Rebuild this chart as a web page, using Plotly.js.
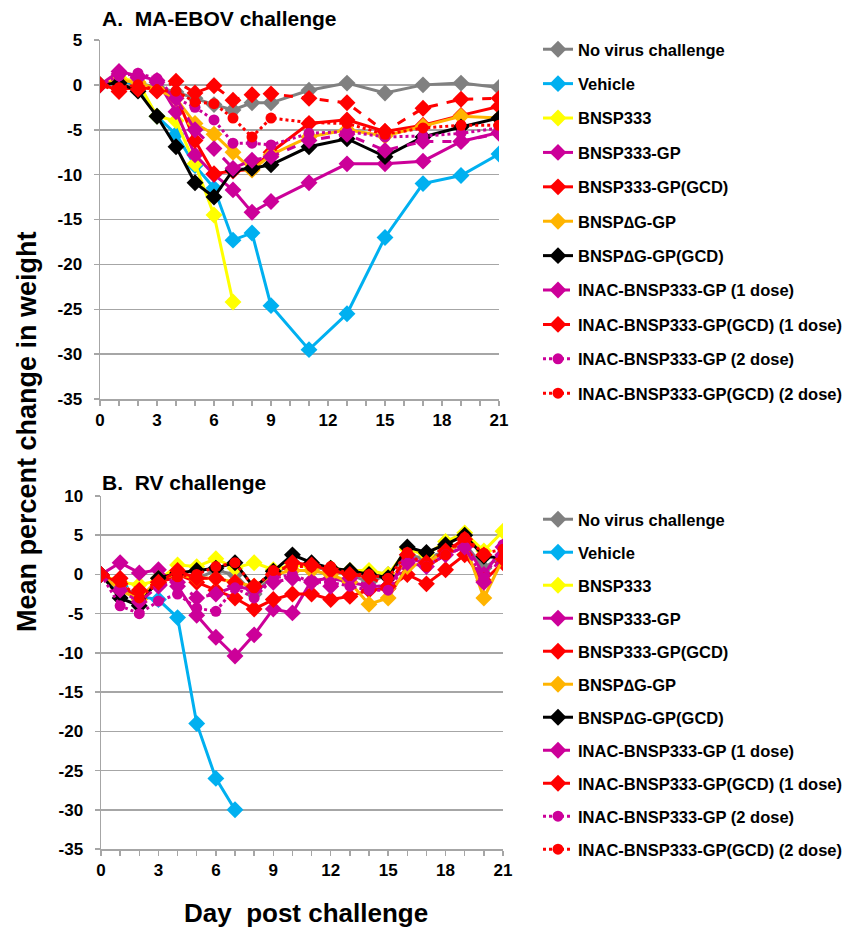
<!DOCTYPE html>
<html>
<head>
<meta charset="utf-8">
<script src="https://cdn.plot.ly/plotly-3.0.1.min.js"></script>
<style>html,body{margin:0;padding:0;background:#fff;}#chart{width:846px;height:933px;}</style>
</head>
<body>
<div id="chart"></div>
<script>
// ---------- DATA ----------
const seriesNames = [
  "No virus challenge",
  "Vehicle",
  "BNSP333",
  "BNSP333-GP",
  "BNSP333-GP(GCD)",
  "BNSP\u2206G-GP",
  "BNSP\u2206G-GP(GCD)",
  "INAC-BNSP333-GP (1 dose)",
  "INAC-BNSP333-GP(GCD) (1 dose)",
  "INAC-BNSP333-GP (2 dose)",
  "INAC-BNSP333-GP(GCD) (2 dose)"
];

// Panel A: MA-EBOV challenge
const daysA = [0, 1, 2, 3, 4, 5, 6, 7, 8, 9, 11, 13, 15, 17, 19, 21];
const aNoVirus   = [0, 0.3, 0.2, -0.3, -0.8, -1.5, -2.2, -2.8, -2.0, -2.0, -0.6, 0.2, -0.9, 0.0, 0.2, -0.3];
const aVehicle   = [0, 0.5, 0.0, -3.5, -5.5, -9.0, -11.5, -17.3, -16.5, -24.6, -29.5, -25.5, -17.0, -11.0, -10.1, -7.7];
const aBNSP333   = [0, 0.8, 0.3, -3.5, -4.0, -8.8, -14.5, -24.2];
const aGP        = [0, 1.5, 1.0, 0.5, -3.0, -7.8, -10.0, -11.7, -14.2, -13.0, -10.9, -8.8, -8.8, -8.5, -6.3, -5.3];
const aGPGCD     = [0, -0.5, -0.3, -0.5, -1.2, -6.2, -9.9, -9.6, -9.4, -7.5, -4.3, -3.9, -5.2, -4.5, -3.4, -2.4];
const aDG        = [0, 0.5, 0.3, -0.5, -1.5, -4.3, -5.5, -7.5, -9.5, -7.8, -5.8, -5.0, -5.7, -4.6, -3.5, -3.7];
const aDGGCD     = [0, 0.2, -0.7, -3.5, -6.9, -10.9, -12.5, -9.5, -9.3, -8.9, -6.9, -6.0, -8.0, -5.8, -4.7, -3.7];
const aInac1     = [0, 1.2, 0.8, 0.3, -1.5, -5.0, -7.1, -9.3, -8.4, -8.0, -6.2, -5.5, -7.3, -6.3, -6.3, -5.4];
const aInacGCD1  = [0, -0.75, -0.5, -0.7, 0.4, -0.9, -0.1, -1.7, -1.1, -1.0, -1.5, -2.0, -5.2, -2.6, -1.6, -1.5];
const aInac2     = [0, 1.0, 1.3, 0.7, -1.5, -2.5, -3.9, -6.5, -6.5, -6.7, -5.4, -5.2, -5.8, -5.7, -5.4, -4.8];
const aInacGCD2  = [0, -0.3, 0.0, -0.6, -0.7, -1.9, -2.1, -3.7, -5.8, -3.7, -4.2, -4.3, -5.5, -4.8, -4.5, -4.5];

// Panel B: RV challenge
const daysB = [0, 1, 2, 3, 4, 5, 6, 7, 8, 9, 10, 11, 12, 13, 14, 15, 16, 17, 18, 19, 20, 21];
const bNoVirus   = [0, -1.5, -3.0, -1.0, 0.0, -0.5, 0.5, 0.0, -2.5, 0.0, 1.5, 1.0, 0.5, 0.0, -1.0, 0.0, 2.5, 2.0, 3.0, 4.0, 0.8, 2.5];
const bVehicle   = [0, -1.5, -2.8, -3.2, -5.5, -19.0, -26.0, -30.0];
const bBNSP333   = [0, -1.0, -1.3, -0.8, 1.2, 1.0, 2.0, 0.8, 1.5, 0.6, 1.2, 1.0, 0.8, 0.5, 0.5, 0.0, 3.2, 2.5, 4.2, 5.3, 3.0, 5.5];
const bGP        = [0, 1.5, 0.2, 0.6, -1.5, -5.2, -8.0, -10.4, -7.7, -4.4, -4.9, -0.8, -0.5, -1.0, -1.5, -1.5, 2.0, 1.5, 3.0, 4.0, 0.0, 3.5];
const bGPGCD     = [0, -1.2, -3.2, -1.0, 0.0, -1.0, -2.0, -3.0, -4.4, -3.2, -2.5, -2.5, -3.2, -2.8, -2.0, -1.8, 0.0, -1.2, 0.6, 2.5, -0.8, 1.5];
const bDG        = [0, -2.0, -3.2, -0.5, 0.0, -0.5, -0.5, -1.0, -1.5, 0.0, 0.5, 0.5, 0.0, -1.0, -3.8, -3.0, 1.0, 1.5, 3.0, 4.0, -3.0, 2.0];
const bDGGCD     = [0, -3.0, -4.0, -0.5, 0.2, 0.5, 0.8, 1.5, -1.7, 0.4, 2.5, 1.5, 0.8, 0.5, 0.0, -0.4, 3.5, 2.8, 3.8, 5.0, 2.3, 2.1];
const bInac1     = [0, -2.0, -3.5, -1.5, -1.0, -3.0, -2.5, -1.5, -2.0, -1.0, -0.5, -1.0, -1.5, -0.5, -1.5, -1.5, 1.5, 1.0, 2.5, 3.5, -1.0, 2.5];
const bInacGCD1  = [0, -0.5, -2.0, -1.0, 0.5, -0.5, -0.5, -1.0, -1.5, 0.0, 1.5, 1.2, 0.5, 0.0, -0.3, -1.5, 2.5, 1.5, 3.0, 4.5, 2.5, 2.0];
const bInac2     = [0, -4.0, -5.0, -3.4, -2.5, -4.3, -4.7, -1.7, -3.0, -0.5, 0.0, -1.0, -1.0, -1.5, -2.0, -2.0, 1.5, 1.0, 2.5, 3.5, -0.5, 3.8];
const bInacGCD2  = [0, -1.0, -3.0, -1.0, -0.3, 0.0, 1.0, 1.5, -1.7, 0.5, 1.0, 1.0, 1.0, 0.0, 0.0, -0.5, 2.8, 1.0, 2.5, 4.7, 2.7, 3.2];

const xTickVals = [0, 3, 6, 9, 12, 15, 18, 21];
const yTickValsA = [5, 0, -5, -10, -15, -20, -25, -30, -35];
const yTickTextA = ["5", "0", "-5", "-10", "-15", "-20", "-25", "-30", "-35"];
const yTickValsB = [10, 5, 0, -5, -10, -15, -20, -25, -30, -35];
const yTickTextB = ["10", "5", "0", "-5", "-10", "-15", "-20", "-25", "-30", "-35"];

// ---------- STYLE ----------
const styles = [
  {color: '#808080', dash: 'solid', symbol: 'diamond'},
  {color: '#00B0F0', dash: 'solid', symbol: 'diamond'},
  {color: '#FFFF00', dash: 'solid', symbol: 'diamond'},
  {color: '#CC0099', dash: 'solid', symbol: 'diamond'},
  {color: '#FF0000', dash: 'solid', symbol: 'diamond'},
  {color: '#FFB400', dash: 'solid', symbol: 'diamond'},
  {color: '#000000', dash: 'solid', symbol: 'diamond'},
  {color: '#CC0099', dash: 'dash',  symbol: 'diamond'},
  {color: '#FF0000', dash: 'dash',  symbol: 'diamond'},
  {color: '#CC0099', dash: 'dot',   symbol: 'circle'},
  {color: '#FF0000', dash: 'dot',   symbol: 'circle'}
];

const seriesA = [aNoVirus, aVehicle, aBNSP333, aGP, aGPGCD, aDG, aDGGCD, aInac1, aInacGCD1, aInac2, aInacGCD2];
const seriesB = [bNoVirus, bVehicle, bBNSP333, bGP, bGPGCD, bDG, bDGGCD, bInac1, bInacGCD1, bInac2, bInacGCD2];

const traces = [];
function addPanel(days, series, xa, ya, legendId, prefix) {
  series.forEach((vals, i) => {
    const s = styles[i];
    traces.push({
      type: 'scatter', mode: 'lines+markers',
      x: days.slice(0, vals.length), y: vals,
      xaxis: xa, yaxis: ya,
      name: seriesNames[i],
      legend: legendId,
      legendgroup: prefix + i,
      line: {color: s.color, width: 3, dash: s.dash},
      marker: {color: s.color, size: s.symbol === 'circle' ? 11 : 13, symbol: s.symbol}
    });
  });
}
addPanel(daysA, seriesA, 'x', 'y', 'legend', 'a');
addPanel(daysB, seriesB, 'x2', 'y2', 'legend2', 'b');

const W = 846, H = 933;
const FONT = 'Liberation Sans, Arial, Helvetica, sans-serif';
const tickFont = {family: FONT, size: 17, color: '#000', weight: 'bold'};
const gridC = '#A6A6A6';

function xAxis(dom, anchor) {
  return {
    domain: dom, anchor: anchor, range: [0, 21],
    tickvals: xTickVals, ticks: 'outside', ticklen: 5, tickcolor: gridC, tickwidth: 1.5,
    minor: {dtick: 1, ticks: 'outside', ticklen: 5, tickcolor: gridC, tickwidth: 1.5, showgrid: false},
    showline: true, linecolor: gridC, linewidth: 1.5,
    showgrid: false, zeroline: false, tickfont: tickFont, fixedrange: true
  };
}
function yAxis(dom, anchor, range, tv, tt) {
  return {
    domain: dom, anchor: anchor, range: range, tickvals: tv, ticktext: tt,
    ticks: 'outside', ticklen: 5, tickcolor: gridC, tickwidth: 1.5, ticklabelstandoff: 8,
    showline: true, linecolor: gridC, linewidth: 1.5,
    showgrid: true, gridcolor: gridC, gridwidth: 1.5, zeroline: false,
    tickfont: tickFont, fixedrange: true
  };
}

const legendFont = {family: FONT, size: 16.5, color: '#000', weight: 'bold'};

const layout = {
  width: W, height: H,
  margin: {l: 0, r: 0, t: 0, b: 0, autoexpand: false},
  paper_bgcolor: '#fff', plot_bgcolor: '#fff',
  showlegend: true,
  xaxis: xAxis([100 / W, 499 / W], 'y'),
  yaxis: yAxis([1 - 399 / H, 1 - 40 / H], 'x', [-35, 5], yTickValsA, yTickTextA),
  xaxis2: xAxis([101 / W, 503 / W], 'y2'),
  yaxis2: yAxis([1 - 849 / H, 1 - 496 / H], 'x2', [-35, 10], yTickValsB, yTickTextB),
  legend: {
    x: 538 / W, y: 1 - 32 / H, xanchor: 'left', yanchor: 'top',
    font: legendFont, tracegroupgap: 9.95, bgcolor: 'rgba(0,0,0,0)', borderwidth: 0
  },
  legend2: {
    x: 538 / W, y: 1 - 502 / H, xanchor: 'left', yanchor: 'top',
    font: legendFont, tracegroupgap: 8.55, bgcolor: 'rgba(0,0,0,0)', borderwidth: 0
  },
  annotations: [
    {text: 'A.\u00a0\u00a0MA-EBOV challenge', xref: 'paper', yref: 'paper',
     x: 100 / W, y: 1 - 19 / H, xanchor: 'left', yanchor: 'middle', showarrow: false,
     font: {family: FONT, size: 21, color: '#000', weight: 'bold'}},
    {text: 'B.\u00a0\u00a0RV challenge', xref: 'paper', yref: 'paper',
     x: 100 / W, y: 1 - 482 / H, xanchor: 'left', yanchor: 'middle', showarrow: false,
     font: {family: FONT, size: 21, color: '#000', weight: 'bold'}},
    {text: 'Mean percent change in weight', xref: 'paper', yref: 'paper',
     x: 27 / W, y: 1 - 432 / H, xanchor: 'center', yanchor: 'middle', textangle: -90, showarrow: false,
     font: {family: FONT, size: 27, color: '#000', weight: 'bold'}},
    {text: 'Day\u00a0\u00a0post challenge', xref: 'paper', yref: 'paper',
     x: 306 / W, y: 1 - 913 / H, xanchor: 'center', yanchor: 'middle', showarrow: false,
     font: {family: FONT, size: 26, color: '#000', weight: 'bold'}}
  ]
};

Plotly.newPlot('chart', traces, layout, {displayModeBar: false, staticPlot: true});
</script>
</body>
</html>
